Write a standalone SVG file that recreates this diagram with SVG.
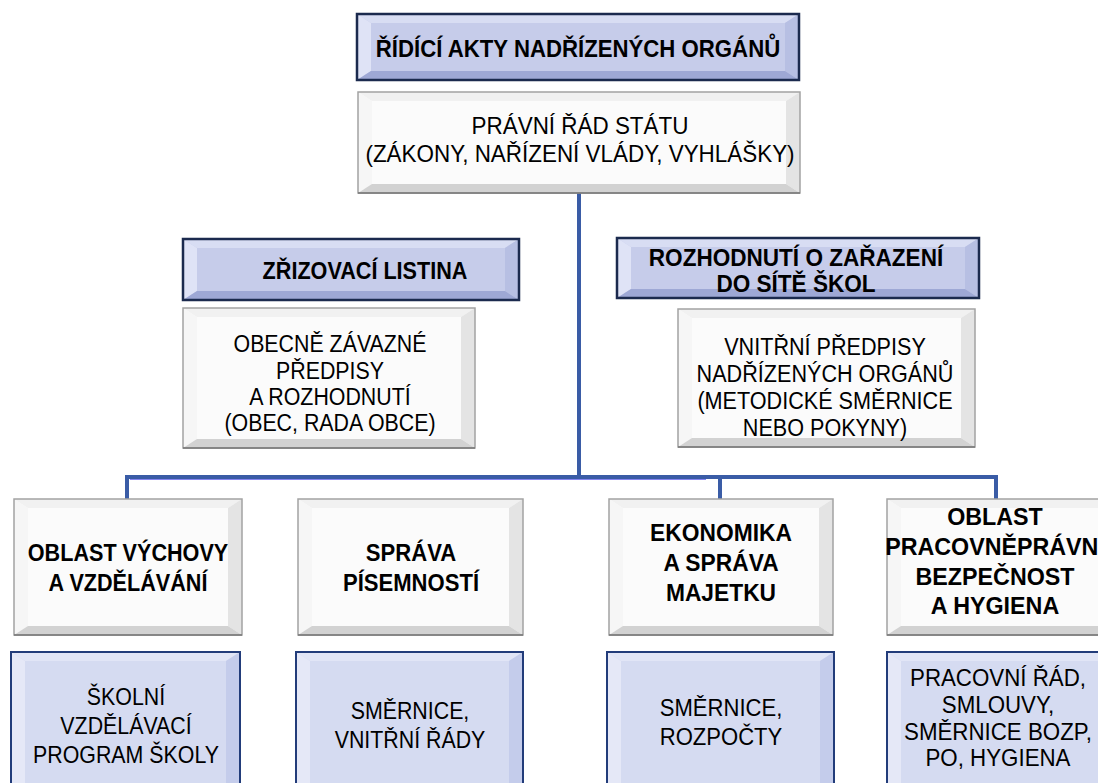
<svg xmlns="http://www.w3.org/2000/svg" width="1098" height="783" viewBox="0 0 1098 783">
<style>
text{font-family:"Liberation Sans",Arial,sans-serif;font-size:24px;fill:#000;text-anchor:middle}
.bd{font-weight:bold}
.w .f{fill:#fbfbfb}.w .t{fill:#f1f1f1}.w .l{fill:#f6f6f6}.w .r{fill:#e4e4e4}.w .b{fill:#d2d2d2}.w .o{fill:none;stroke:#a3a3a3;stroke-width:1.5}.w .e{fill:none;stroke:#777;stroke-width:1.5}
.h .f{fill:#c6ccea}.h .t{fill:#d8ddf3}.h .l{fill:#dfe3f6}.h .r{fill:#b7bfe3}.h .b{fill:#9ea8d5}.h .o{fill:none;stroke:#1b2a4e;stroke-width:2.5}
.v .f{fill:#d5dbf1}.v .t{fill:#e1e5f6}.v .l{fill:#e5e8f7}.v .r{fill:#c4cceb}.v .b{fill:#b6bfe4}.v .o{fill:none;stroke:#223c7a;stroke-width:2}
.cn{fill:none;stroke:#3a5ca6;stroke-width:4}
</style>
<g id="connectors">
<path class="cn" d="M579 193V477M127 499V477H996V499M720 477V499"/>
<path d="M130 479.5H706" stroke="#8585ee" stroke-width="1" fill="none"/>
</g>
<g id="title" class="h">
<rect class="f" x="357" y="14" width="442" height="66"/>
<polygon class="t" points="357,14 799,14 785,23 371,23"/><polygon class="l" points="357,14 371,23 371,71 357,80"/><polygon class="r" points="799,14 799,80 785,71 785,23"/><polygon class="b" points="357,80 371,71 785,71 799,80"/>
<rect class="o" x="357" y="14" width="442" height="66"/>
<g transform="translate(578 0) scale(0.925 1)"><text class="bd" x="0" y="57">ŘÍDÍCÍ AKTY NADŘÍZENÝCH ORGÁNŮ</text></g>
</g>
<g id="law" class="w">
<rect class="f" x="358" y="92" width="442" height="101"/>
<polygon class="t" points="358,92 800,92 786,101 372,101"/><polygon class="l" points="358,92 372,101 372,184 358,193"/><polygon class="r" points="800,92 800,193 786,184 786,101"/><polygon class="b" points="358,193 372,184 786,184 800,193"/>
<rect class="o" x="358" y="92" width="442" height="101"/><path class="e" d="M358 193H800"/>
<g transform="translate(580 0) scale(0.935 1)">
<text x="0" y="134">PRÁVNÍ ŘÁD STÁTU</text>
<text x="0" y="162">(ZÁKONY, NAŘÍZENÍ VLÁDY, VYHLÁŠKY)</text>
</g>
</g>
<g id="zrizovaci" class="h">
<rect class="f" x="183" y="239" width="336" height="61"/>
<polygon class="t" points="183,239 519,239 505,248 197,248"/><polygon class="l" points="183,239 197,248 197,291 183,300"/><polygon class="r" points="519,239 519,300 505,291 505,248"/><polygon class="b" points="183,300 197,291 505,291 519,300"/>
<rect class="o" x="183" y="239" width="336" height="61"/>
<g transform="translate(365 0) scale(0.9 1)"><text class="bd" x="0" y="279">ZŘIZOVACÍ LISTINA</text></g>
</g>
<g id="obecne" class="w">
<rect class="f" x="183" y="308" width="292" height="140"/>
<polygon class="t" points="183,308 475,308 461,317 197,317"/><polygon class="l" points="183,308 197,317 197,439 183,448"/><polygon class="r" points="475,308 475,448 461,439 461,317"/><polygon class="b" points="183,448 197,439 461,439 475,448"/>
<rect class="o" x="183" y="308" width="292" height="140"/><path class="e" d="M183 448H475"/>
<g transform="translate(330 0) scale(0.89 1)">
<text x="0" y="352">OBECNĚ ZÁVAZNÉ</text>
<text x="0" y="379">PŘEDPISY</text>
<text x="0" y="405">A ROZHODNUTÍ</text>
<text x="0" y="431">(OBEC, RADA OBCE)</text>
</g>
</g>
<g id="rozhodnuti" class="h">
<rect class="f" x="617" y="238" width="362" height="60"/>
<polygon class="t" points="617,238 979,238 965,247 631,247"/><polygon class="l" points="617,238 631,247 631,289 617,298"/><polygon class="r" points="979,238 979,298 965,289 965,247"/><polygon class="b" points="617,298 631,289 965,289 979,298"/>
<rect class="o" x="617" y="238" width="362" height="60"/>
<g transform="translate(796 0) scale(0.94 1)">
<text class="bd" x="0" y="266">ROZHODNUTÍ O ZAŘAZENÍ</text>
<text class="bd" x="0" y="292">DO SÍTĚ ŠKOL</text>
</g>
</g>
<g id="vnitrni" class="w">
<rect class="f" x="678" y="309" width="297" height="138"/>
<polygon class="t" points="678,309 975,309 961,318 692,318"/><polygon class="l" points="678,309 692,318 692,438 678,447"/><polygon class="r" points="975,309 975,447 961,438 961,318"/><polygon class="b" points="678,447 692,438 961,438 975,447"/>
<rect class="o" x="678" y="309" width="297" height="138"/><path class="e" d="M678 447H975"/>
<g transform="translate(825 0) scale(0.9 1)">
<text x="0" y="355">VNITŘNÍ PŘEDPISY</text>
<text x="0" y="382">NADŘÍZENÝCH ORGÁNŮ</text>
<text x="0" y="409">(METODICKÉ SMĚRNICE</text>
<text x="0" y="436">NEBO POKYNY)</text>
</g>
</g>
<g id="vychova" class="w">
<rect class="f" x="14" y="499" width="228" height="136"/>
<polygon class="t" points="14,499 242,499 228,508 28,508"/><polygon class="l" points="14,499 28,508 28,626 14,635"/><polygon class="r" points="242,499 242,635 228,626 228,508"/><polygon class="b" points="14,635 28,626 228,626 242,635"/>
<rect class="o" x="14" y="499" width="228" height="136"/><path class="e" d="M14 635H242"/>
<g transform="translate(128 0) scale(0.9 1)">
<text class="bd" x="0" y="561">OBLAST VÝCHOVY</text>
<text class="bd" x="0" y="591">A VZDĚLÁVÁNÍ</text>
</g>
</g>
<g id="pisemnosti" class="w">
<rect class="f" x="298" y="499" width="225" height="136"/>
<polygon class="t" points="298,499 523,499 509,508 312,508"/><polygon class="l" points="298,499 312,508 312,626 298,635"/><polygon class="r" points="523,499 523,635 509,626 509,508"/><polygon class="b" points="298,635 312,626 509,626 523,635"/>
<rect class="o" x="298" y="499" width="225" height="136"/><path class="e" d="M298 635H523"/>
<g transform="translate(411 0) scale(0.92 1)">
<text class="bd" x="0" y="561">SPRÁVA</text>
<text class="bd" x="0" y="591">PÍSEMNOSTÍ</text>
</g>
</g>
<g id="ekonomika" class="w">
<rect class="f" x="609" y="499" width="224" height="136"/>
<polygon class="t" points="609,499 833,499 819,508 623,508"/><polygon class="l" points="609,499 623,508 623,626 609,635"/><polygon class="r" points="833,499 833,635 819,626 819,508"/><polygon class="b" points="609,635 623,626 819,626 833,635"/>
<rect class="o" x="609" y="499" width="224" height="136"/><path class="e" d="M609 635H833"/>
<g transform="translate(721 0) scale(0.95 1)">
<text class="bd" x="0" y="541">EKONOMIKA</text>
<text class="bd" x="0" y="571">A SPRÁVA</text>
<text class="bd" x="0" y="601">MAJETKU</text>
</g>
</g>
<g id="pracovnepravni" class="w">
<rect class="f" x="887" y="499" width="226" height="136"/>
<polygon class="t" points="887,499 1113,499 1099,508 901,508"/><polygon class="l" points="887,499 901,508 901,626 887,635"/><polygon class="r" points="1113,499 1113,635 1099,626 1099,508"/><polygon class="b" points="887,635 901,626 1099,626 1113,635"/>
<rect class="o" x="887" y="499" width="226" height="136"/><path class="e" d="M887 635H1113"/>
<g transform="translate(995 0) scale(0.97 1)">
<text class="bd" x="0" y="525">OBLAST</text>
<text class="bd" x="0" y="555">PRACOVNĚPRÁVNÍ</text>
<text class="bd" x="0" y="585">BEZPEČNOST</text>
<text class="bd" x="0" y="614">A HYGIENA</text>
</g>
</g>
<g id="svp" class="v">
<rect class="f" x="11" y="652" width="229" height="148"/>
<polygon class="t" points="11,652 240,652 226,661 25,661"/><polygon class="l" points="11,652 25,661 25,791 11,800"/><polygon class="r" points="240,652 240,800 226,791 226,661"/>
<rect class="o" x="11" y="652" width="229" height="148"/>
<g transform="translate(126 0) scale(0.89 1)">
<text x="0" y="705">ŠKOLNÍ</text>
<text x="0" y="734">VZDĚLÁVACÍ</text>
<text x="0" y="763">PROGRAM ŠKOLY</text>
</g>
</g>
<g id="smernice-rady" class="v">
<rect class="f" x="296" y="652" width="227" height="148"/>
<polygon class="t" points="296,652 523,652 509,661 310,661"/><polygon class="l" points="296,652 310,661 310,791 296,800"/><polygon class="r" points="523,652 523,800 509,791 509,661"/>
<rect class="o" x="296" y="652" width="227" height="148"/>
<g transform="translate(410 0) scale(0.89 1)">
<text x="0" y="719">SMĚRNICE,</text>
<text x="0" y="748">VNITŘNÍ ŘÁDY</text>
</g>
</g>
<g id="smernice-rozpocty" class="v">
<rect class="f" x="607" y="652" width="227" height="148"/>
<polygon class="t" points="607,652 834,652 820,661 621,661"/><polygon class="l" points="607,652 621,661 621,791 607,800"/><polygon class="r" points="834,652 834,800 820,791 820,661"/>
<rect class="o" x="607" y="652" width="227" height="148"/>
<g transform="translate(721 0) scale(0.92 1)">
<text x="0" y="716">SMĚRNICE,</text>
<text x="0" y="745">ROZPOČTY</text>
</g>
</g>
<g id="pracovni-rad" class="v">
<rect class="f" x="887" y="652" width="226" height="148"/>
<polygon class="t" points="887,652 1113,652 1099,661 901,661"/><polygon class="l" points="887,652 901,661 901,791 887,800"/><polygon class="r" points="1113,652 1113,800 1099,791 1099,661"/>
<rect class="o" x="887" y="652" width="226" height="148"/>
<g transform="translate(998 0) scale(0.93 1)">
<text x="0" y="686">PRACOVNÍ ŘÁD,</text>
<text x="0" y="713">SMLOUVY,</text>
<text x="0" y="740">SMĚRNICE BOZP,</text>
<text x="0" y="766">PO, HYGIENA</text>
</g>
</g>
</svg>
